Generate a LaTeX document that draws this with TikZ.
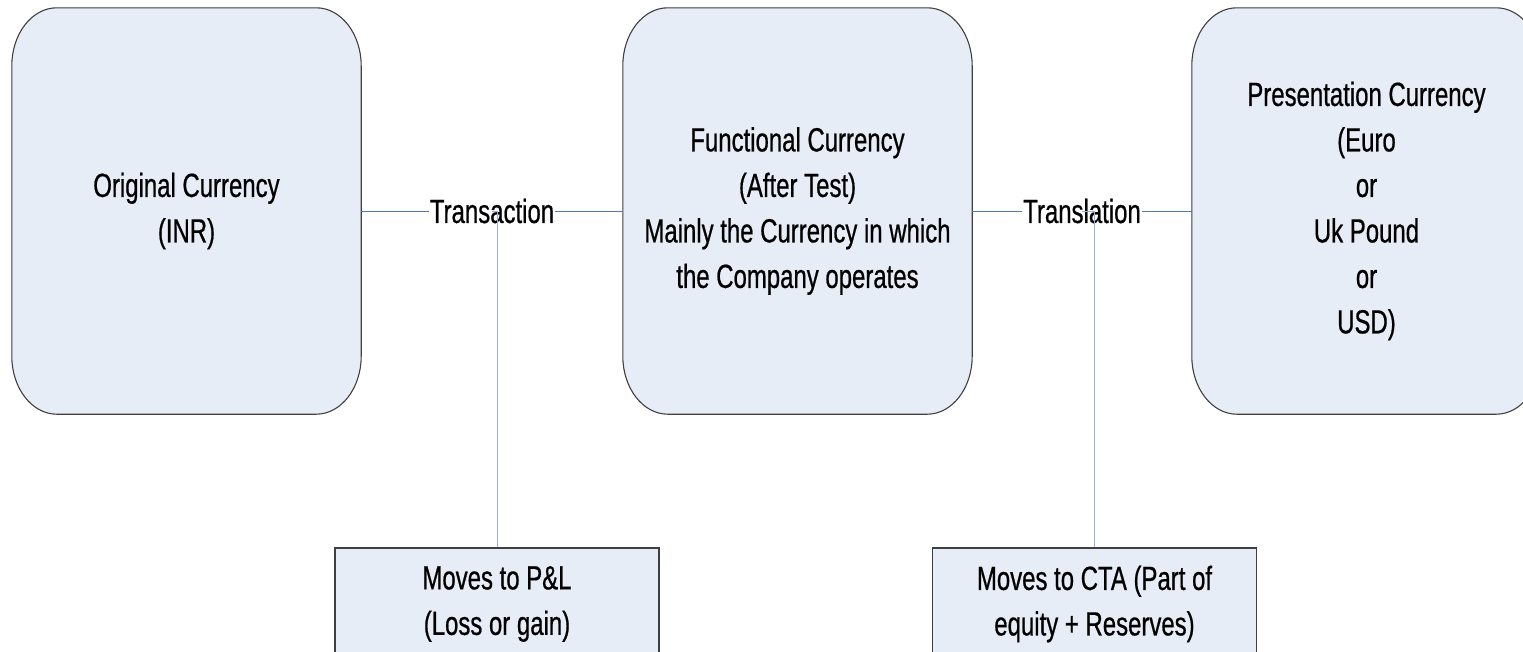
\documentclass[tikz,border=0pt]{standalone}
\usepackage{fontspec}
\setmainfont{Liberation Sans}[FakeStretch=0.715, FakeBold=0.6]
\usetikzlibrary{backgrounds}

\definecolor{boxfill}{HTML}{E6EDF7}
\definecolor{boxline}{HTML}{404040}
\definecolor{linkdark}{HTML}{4F78B8}
\definecolor{linklight}{HTML}{95B3DE}

% Rounded outline with elliptical corners drawn around a named node
\newcommand\roundframe[1]{%
  \path[fill=boxfill, draw=boxline, line width=1.1pt]
    ([yshift=58pt]#1.south west) -- ([yshift=-58pt]#1.north west)
    arc[start angle=180, end angle=90, x radius=45pt, y radius=58pt]
    -- ([xshift=-45pt]#1.north east)
    arc[start angle=90, end angle=0, x radius=45pt, y radius=58pt]
    -- ([yshift=58pt]#1.south east)
    arc[start angle=0, end angle=-90, x radius=45pt, y radius=58pt]
    -- ([xshift=45pt]#1.south west)
    arc[start angle=-90, end angle=-180, x radius=45pt, y radius=58pt]
    -- cycle;}

\begin{document}
\begin{tikzpicture}[x=1pt, y=-1pt,
  txt/.style={font=\fontsize{33.5}{45.5}\selectfont, align=center, text=black},
  bigbox/.style={txt, minimum width=349pt, minimum height=406pt, inner sep=0pt},
  smallbox/.style={txt, draw=boxline, fill=boxfill, line width=1.1pt,
                   minimum width=324pt, minimum height=112pt, inner sep=0pt},
  linklabel/.style={txt, inner sep=1pt},
  mainlink/.style={draw=linkdark, line width=1pt},
  sidelink/.style={draw=linklight, line width=1pt}]

  \useasboundingbox (0,0) rectangle (1523,651);
  \clip (0,0) rectangle (1523,651);

  % currency stages
  \node[bigbox] (orig) at (186.5,211) {Original Currency\\(INR)};
  \node[bigbox] (func) at (797.5,211) {Functional Currency\\(After Test)\\Mainly the Currency in which\\the Company operates};
  \node[bigbox] (pres) at (1366.5,211) {Presentation Currency\\(Euro\\or\\Uk Pound\\or\\USD)};

  \begin{scope}[on background layer]
    \clip (0,0) rectangle (1523,651);
    \roundframe{orig}
    \roundframe{func}
    \roundframe{pres}
  \end{scope}

  % conversion steps
  \node[linklabel] (trans) at (492,211) {Transaction};
  \node[linklabel] (transl) at (1082,211) {Translation};

  % where the differences go
  \node[smallbox] (pl) at (497,604) {Moves to P\&L\\(Loss or gain)};
  \node[smallbox] (cta) at (1094.5,604) {Moves to CTA (Part of\\equity + Reserves)};

  % connectors
  \draw[mainlink] (orig.east) -- (trans.west);
  \draw[mainlink] (trans.east) -- (func.west);
  \draw[mainlink] (func.east) -- (transl.west);
  \draw[mainlink] (transl.east) -- (pres.west);
  \draw[sidelink] (trans.center) -| (pl.north);
  \draw[sidelink] (transl.center) -| (cta.north);
\end{tikzpicture}
\end{document}
